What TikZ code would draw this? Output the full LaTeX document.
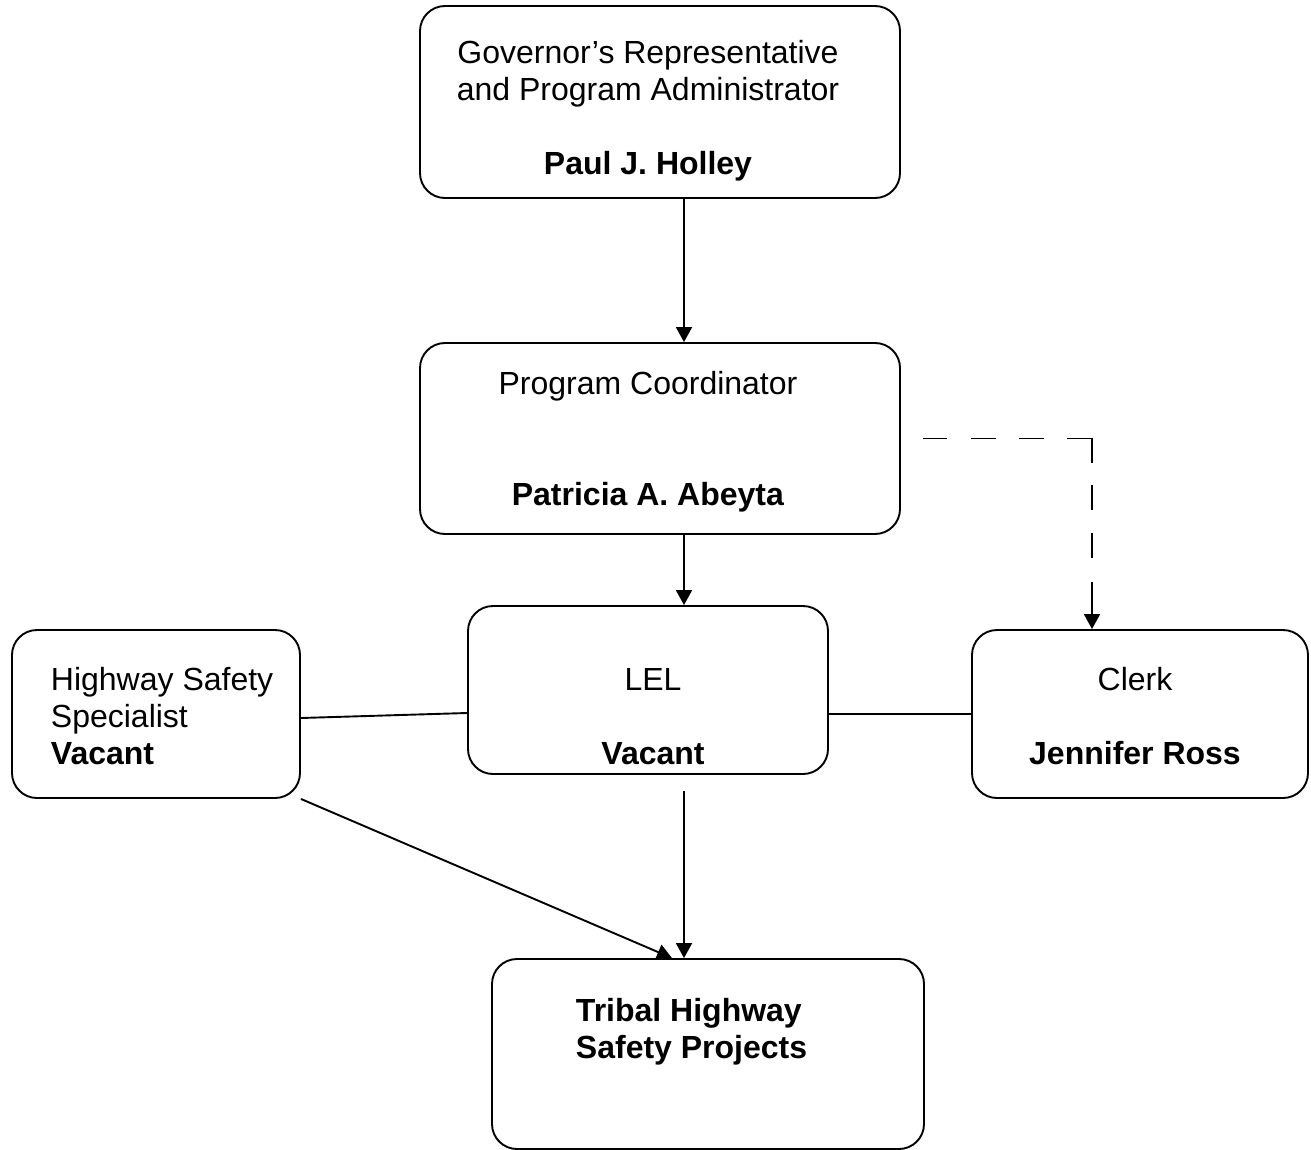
\documentclass[tikz,border=0pt]{standalone}
\usepackage{fontspec}
\setmainfont{Liberation Sans}
\usetikzlibrary{calc,arrows.meta}

\begin{document}
\begin{tikzpicture}[x=1pt,y=-1pt,line width=1.9pt,
  >={Triangle[length=15pt,width=16pt]},
  box/.style={draw,rounded corners=25pt,inner sep=0pt},
  lbl/.style={inner sep=0pt,anchor=base,font=\fontsize{32}{37}\selectfont}]

    \useasboundingbox (0,0) rectangle (1311,1150);
%the boxes
    \node[box,minimum width=480pt,minimum height=192pt] (gov) at (660,102) {};
    \node[box,minimum width=480pt,minimum height=191pt] (coord) at (660,438.5) {};
    \node[box,minimum width=360pt,minimum height=168pt] (lel) at (648,690) {};
    \node[box,minimum width=288pt,minimum height=168pt] (hss) at (156,714) {};
    \node[box,minimum width=336pt,minimum height=168pt] (clerk) at (1140,714) {};
    \node[box,minimum width=432pt,minimum height=190pt] (tribal) at (708,1054) {};
%the texts (base = last line)
    \node[lbl,align=center] (govt) at (648,175) {Governor’s Representative\\and Program Administrator\\[37pt]\textbf{Paul J. Holley}};
    \node[lbl,align=center] (coordt) at (648,505) {Program Coordinator\\[74pt]\textbf{Patricia A. Abeyta}};
    \node[lbl,align=center] (lelt) at (653,764) {LEL\\[37pt]\textbf{Vacant}};
    \node[lbl,align=left,anchor=base west] (hsst) at (50,764) {Highway Safety\\Specialist\\\textbf{Vacant}};
    \node[lbl,align=center] (clerkt) at (1135,764) {Clerk\\[37pt]\textbf{Jennifer Ross}};
    \node[lbl,align=left,anchor=base west] (tribalt) at (575,1058) {\textbf{Tribal Highway}\\\textbf{Safety Projects}};
%the connectors
    \coordinate (ax) at (684,0);
    \coordinate (bx) at (1092,0);
    \draw[->] (gov.south -| ax) -- (coord.north -| ax);
    \draw[->] (coord.south -| ax) -- (lel.north -| ax);
    \draw[->,dash pattern=on 24pt off 24pt on 25pt off 23pt on 25pt off 23pt on 50pt off 22pt on 25pt off 23pt on 25pt off 24pt on 80pt]
      ($(coord.east)+(22,0)$) -| (clerk.north -| bx);
    \draw ($(hss.east)+(0,4)$) -- ($(lel.west)+(0,23)$);
    \draw (lel.east |- clerk.west) -- (clerk.west);
    \draw[->] ($(lel.south -| ax)+(0,16)$) -- (tribal.north -| ax);
    \draw[->] (hss.south east) -- ($(tribal.north)+(-36,0)$);
\end{tikzpicture}
\end{document}
